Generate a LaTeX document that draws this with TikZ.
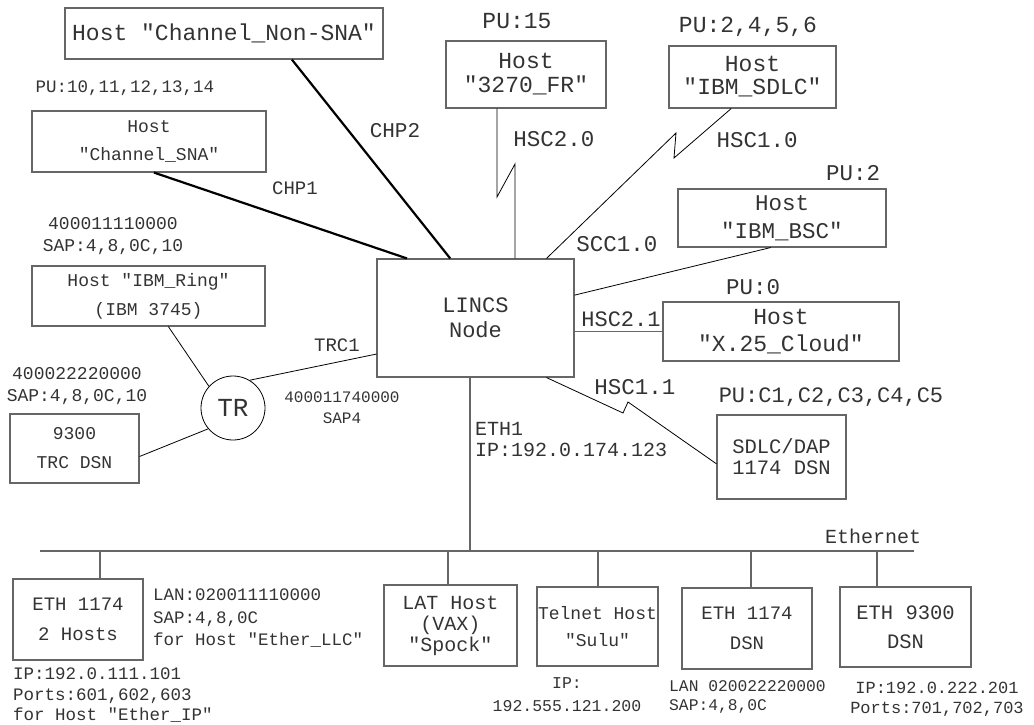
\documentclass[tikz,border=0pt]{standalone}
\usepackage{fontspec}
\setmainfont{Liberation Mono}[Ligatures=TeXOff]
\usepackage{tikz}
\newcommand{\fsz}[2]{\fontsize{#1}{#2}\selectfont}
\definecolor{boxgray}{gray}{0.4}
\definecolor{txtgray}{gray}{0.2}

\begin{document}
\begin{tikzpicture}[x=1pt,y=-1pt,
  host/.style={draw=boxgray, line width=1.1pt, align=center, inner sep=0pt, text=txtgray},
  lbl/.style={align=center, inner sep=0pt, text=txtgray},
  link/.style={black, line width=0.8pt},
  chan/.style={black, line width=2.2pt},
  lan/.style={boxgray, line width=1.1pt}]

\useasboundingbox (0,0) rectangle (1034,725);

% hosts
\node[host, minimum width=318pt, minimum height=51pt, font=\fsz{23}{24}] (nonsna) at (224,33.5) {Host "Channel\_Non-SNA"};
\node[host, minimum width=234pt, minimum height=61pt, font=\fsz{18}{28}] (sna) at (149,141.5) {Host\\"Channel\_SNA"};
\node[host, minimum width=160pt, minimum height=67pt, font=\fsz{23}{24}] (fr) at (526,74.5) {Host\\"3270\_FR"};
\node[host, minimum width=167pt, minimum height=62pt, font=\fsz{23}{23}] (sdlc) at (752.5,77) {Host\\"IBM\_SDLC"};
\node[host, minimum width=208pt, minimum height=58pt, font=\fsz{22.5}{28}] (bsc) at (782,218) {Host\\"IBM\_BSC"};
\node[host, minimum width=236pt, minimum height=59pt, font=\fsz{23}{27}] (x25) at (781,331.5) {Host\\"X.25\_Cloud"};
\node[host, minimum width=197pt, minimum height=118pt, font=\fsz{22}{25}] (lincs) at (475.5,318) {LINCS\\Node};
\node[host, minimum width=129pt, minimum height=84pt, font=\fsz{20.5}{21}] (dap) at (781.5,457) {SDLC/DAP\\1174 DSN};
\node[host, minimum width=233pt, minimum height=60pt, font=\fsz{18}{29}] (ring) at (148.5,296) {Host "IBM\_Ring"\\(IBM 3745)};
\node[host, circle, draw=black, line width=0.8pt, minimum size=64pt, font=\fsz{26}{24}] (tr) at (233,408) {TR};
\node[host, minimum width=129pt, minimum height=69pt, font=\fsz{18}{29}] (trc) at (74.5,448.5) {9300\\TRC DSN};

% ethernet hosts
\node[host, minimum width=130pt, minimum height=81pt, font=\fsz{19}{30}] (eth) at (78,619.5) {ETH 1174\\2 Hosts};
\node[host, minimum width=133pt, minimum height=81pt, font=\fsz{20}{21}] (lat) at (450.5,625.5) {LAT Host\\(VAX)\\"Spock"};
\node[host, minimum width=121pt, minimum height=79pt, font=\fsz{18}{27}] (tel) at (597.5,626.5) {Telnet Host\\"Sulu"};
\node[host, minimum width=130pt, minimum height=81pt, font=\fsz{19}{30}] (dsn) at (747,628.5) {ETH 1174\\DSN};
\node[host, minimum width=131pt, minimum height=80pt, font=\fsz{20.5}{29}] (nine) at (905.5,627) {ETH 9300\\DSN};

% labels
\node[lbl, font=\fsz{17.5}{20}] (pu10) at (125,88) {PU:10,11,12,13,14};
\node[lbl, font=\fsz{19}{20}] (chp1) at (295,188) {CHP1};
\node[lbl, font=\fsz{21}{20}] (chp2) at (395,131) {CHP2};
\node[lbl, font=\fsz{23}{20}] (pu15) at (517,21) {PU:15};
\node[lbl, font=\fsz{23}{20}] (pu2456) at (748,27) {PU:2,4,5,6};
\node[lbl, font=\fsz{22.5}{20}] (hsc20) at (554,139) {HSC2.0};
\node[lbl, font=\fsz{22.5}{20}] (hsc10) at (757,140) {HSC1.0};
\node[lbl, font=\fsz{22.5}{20}] (scc10) at (617,244) {SCC1.0};
\node[lbl, font=\fsz{22.5}{20}] (pu2) at (853,173) {PU:2};
\node[lbl, font=\fsz{22.5}{20}] (pu0) at (753,287) {PU:0};
\node[lbl, font=\fsz{22}{20}] (hsc21) at (621,319) {HSC2.1};
\node[lbl, font=\fsz{22.5}{20}] (hsc11) at (635,387) {HSC1.1};
\node[lbl, font=\fsz{22}{20}] (puc) at (831,397) {PU:C1,C2,C3,C4,C5};
\node[lbl, font=\fsz{20}{20}] (ethernet) at (873,536) {Ethernet};
\node[lbl, align=left, anchor=west, font=\fsz{20}{21}] (eth1) at (475,439.5) {ETH1\\IP:192.0.174.123};
\node[lbl, font=\fsz{18}{22}] (mac1) at (113,236) {400011110000\\SAP:4,8,0C,10};
\node[lbl, font=\fsz{18}{22}] (mac2) at (77,386) {400022220000\\SAP:4,8,0C,10};
\node[lbl, font=\fsz{16}{21}] (mac3) at (342,407.5) {400011740000\\SAP4};
\node[lbl, font=\fsz{19}{20}] (trc1) at (337,345) {TRC1};
\node[lbl, align=left, anchor=west, font=\fsz{17.5}{22.5}] (lan1) at (153,618.5) {LAN:020011110000\\SAP:4,8,0C\\for Host "Ether\_LLC"};
\node[lbl, align=left, anchor=south west, font=\fsz{17.5}{20.5}] (ip1) at (13,723) {IP:192.0.111.101\\Ports:601,602,603\\for Host "Ether\_IP"};
\node[lbl, font=\fsz{16.5}{23}] (ip2) at (567,694.5) {IP:\\192.555.121.200};
\node[lbl, align=left, anchor=west, font=\fsz{16.3}{19}] (lan2) at (669,696.5) {LAN 020022220000\\SAP:4,8,0C};
\node[lbl, font=\fsz{17}{20}] (ip3) at (937,699) {IP:192.0.222.201\\Ports:701,702,703};

% channel links
\draw[chan] (sna.-81) -- (lincs.139);
\draw[chan] (nonsna.-21) -- (lincs.113);

% serial links
\coordinate (fr1) at (497,197);
\coordinate (fr2) at (515,164);
\draw[link] (fr.south -| fr1) -- (fr1) -- (fr2) -- (lincs.north -| fr2);
\coordinate (sd1) at (674,158);
\coordinate (sd2) at (676,133);
\draw[link] (sdlc.236.5) -- (sd1) -- (sd2) -- (lincs.40);
\draw[link] (bsc.249) -- (lincs.13);
\draw[lan] (x25.west) -- (x25.west -| lincs.east);
\coordinate (hs1) at (623,413);
\coordinate (hs2) at (628,402);
\draw[link] (lincs.-40) -- (hs1) -- (hs2) -- (dap.186);

% token ring
\draw[link] (ring.-57) -- (tr.138);
\draw[link] (tr.59) -- (lincs.200);
\draw[link] (trc.-7.5) -- (tr.220);

% ethernet
\coordinate (busW) at (40,551);
\coordinate (busE) at (914,551);
\coordinate (e1) at (470,551);
\draw[lan] (busW) -- (busE);
\draw[lan] (lincs.south -| e1) -- (e1);
\foreach \n/\x in {eth/100,lat/448,tel/598,dsn/751,nine/877} {
  \coordinate (t\n) at (\x,551);
  \draw[lan] (t\n) -- (\n.north -| t\n);
}
\end{tikzpicture}
\end{document}
